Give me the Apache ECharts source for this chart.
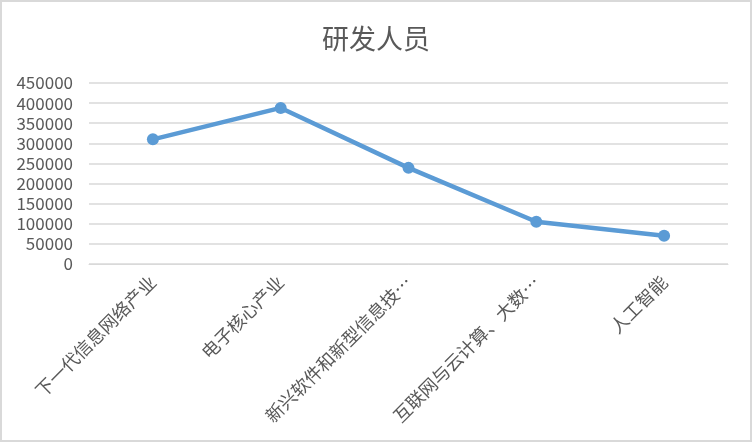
<!DOCTYPE html>
<html>
<head>
<meta charset="UTF-8">
<title>研发人员</title>
<script src="https://cdn.jsdelivr.net/npm/echarts@6/dist/echarts.min.js"></script>
<style>
html, body { margin: 0; padding: 0; background: #fff; }
#chart-container {
  width: 752px; height: 442px;
  box-sizing: border-box;
  border: 2px solid #d9d9d9;
}
</style>
</head>
<body>
<div id="chart-container"></div>
<script>
// 数据
var categories = ['下一代信息网络产业', '电子核心产业', '新兴软件和新型信息技…', '互联网与云计算、大数…', '人工智能'];
var staffValues = [310000, 388000, 239000, 105000, 70000];
var yTicks = { min: 0, max: 450000, interval: 50000 };

var myChart = echarts.init(document.getElementById('chart-container'));

var option = {
  animation: false,
  textStyle: { fontFamily: '"Noto Sans CJK SC", "Noto Sans", sans-serif' },
  title: {
    text: '研发人员',
    left: 'center',
    top: 18,
    textStyle: { fontSize: 27, fontWeight: 'normal', color: '#595959' }
  },
  grid: { left: 87, right: 22, top: 81, bottom: 176 },
  xAxis: {
    type: 'category',
    data: categories,
    boundaryGap: true,
    axisLine: { show: true, lineStyle: { color: '#d9d9d9', width: 1 } },
    axisTick: { show: false },
    axisLabel: {
      interval: 0,
      rotate: 45,
      margin: 15,
      fontSize: 18,
      color: '#595959'
    }
  },
  yAxis: {
    type: 'value',
    min: yTicks.min,
    max: yTicks.max,
    interval: yTicks.interval,
    axisLine: { show: false },
    axisTick: { show: false },
    axisLabel: {
      fontSize: 17,
      color: '#595959',
      margin: 16,
      formatter: function (v) { return String(v); }
    },
    splitLine: { lineStyle: { color: '#d9d9d9', width: 1.5 } }
  },
  series: [{
    name: '研发人员',
    type: 'line',
    data: staffValues,
    symbol: 'circle',
    symbolSize: 12,
    lineStyle: { color: '#5b9bd5', width: 4.5 },
    itemStyle: { color: '#5b9bd5' }
  }]
};

myChart.setOption(option);
</script>
</body>
</html>
